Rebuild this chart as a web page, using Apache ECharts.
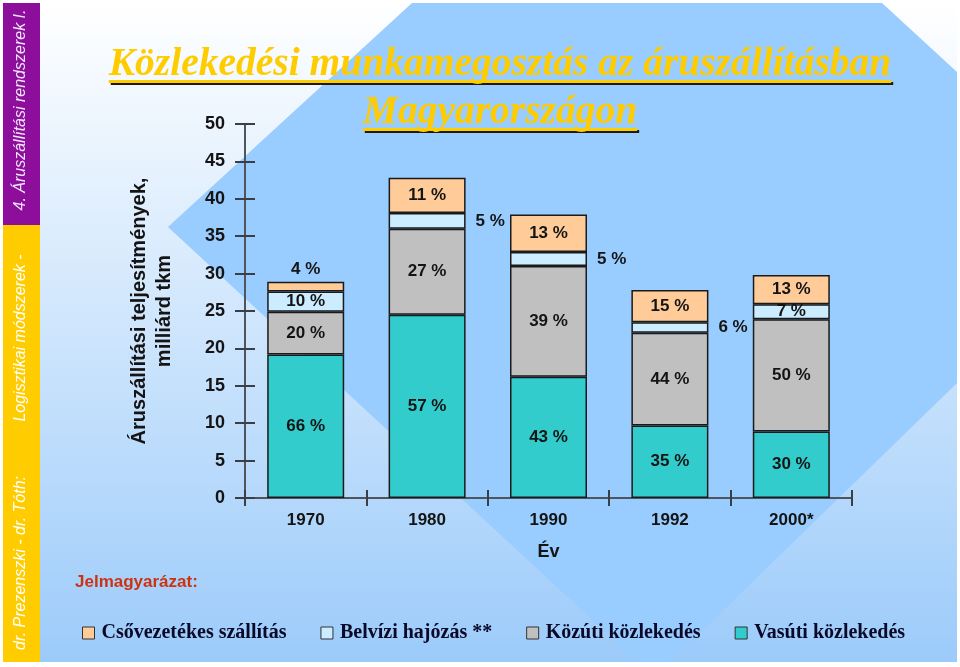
<!DOCTYPE html>
<html><head><meta charset="utf-8">
<script src="https://cdn.jsdelivr.net/npm/echarts@6/dist/echarts.min.js"></script>
<style>html,body{margin:0;padding:0;background:#fff}#c{width:960px;height:667px}</style>
</head><body><div id="c"></div>
<script>
// ---- data ----
const categories = ['1970', '1980', '1990', '1992', '2000*'];
const rail  = [19.2, 24.5, 16.2, 9.7, 8.9];   // Vasúti
const road  = [5.7, 11.5, 14.8, 12.4, 15.0];  // Közúti
const water = [2.7, 2.1, 1.9, 1.4, 2.0];      // Belvízi
const pipe  = [1.3, 4.7, 5.0, 4.3, 3.9];      // Csővezetékes
const railPct  = ['66 %', '57 %', '43 %', '35 %', '30 %'];
const roadPct  = ['20 %', '27 %', '39 %', '44 %', '50 %'];
const waterPct = ['10 %', '5 %', '5 %', '6 %', '7 %'];
const pipePct  = ['4 %', '11 %', '13 %', '15 %', '13 %'];
const seriesNames = ['Csővezetékes szállítás', 'Belvízi hajózás **', 'Közúti közlekedés', 'Vasúti közlekedés'];
const yMin = 0, yMax = 50, yStep = 5;

// label placement (config)
const railPos  = ['inside', 'inside', 'inside', 'inside', 'inside'];
const roadPos  = ['inside', 'inside', 'inside', 'inside', 'inside'];
const waterPos = ['inside', 'right', 'right', 'right', 'inside'];
const pipePos  = ['top', 'inside', 'inside', 'inside', 'inside'];

const chart = echarts.init(document.getElementById('c'), null, {renderer: 'canvas'});

const sans = '"Liberation Sans", Arial, sans-serif';
const serif = '"Liberation Serif", "Times New Roman", serif';
const titleFont = 'italic bold 39.5px ' + serif;

function measure(txt, font) {
  const cv = document.createElement('canvas').getContext('2d');
  cv.font = font;
  return cv.measureText(txt).width;
}
const t1 = 'Közlekedési munkamegosztás az áruszállításban';
const t2 = 'Magyarországon';
const w1 = measure(t1, titleFont), w2 = measure(t2, titleFont);
const cx = 500;

function mkSeries(name, vals, pcts, pos, color) {
  return {
    name: name, type: 'bar', stack: 'total', barWidth: 77,
    itemStyle: {color: color, borderColor: '#1a1a1a', borderWidth: 1.5},
    label: {
      show: true, color: '#141414', fontFamily: sans, fontWeight: 'bold', fontSize: 17,
      formatter: p => pcts[p.dataIndex]
    },
    data: vals.map((v, i) => ({
      value: v,
      label: {position: pos[i], distance: pos[i] === 'right' ? 10 : 4}
    }))
  };
}

const sideText = (txt, x, y, fill, shadow) => ({
  type: 'text', x: x, y: y, rotation: Math.PI / 2, z: -50,
  style: {text: txt, font: 'italic 16px ' + sans, fill: fill, align: 'center', verticalAlign: 'middle',
          textShadowColor: shadow, textShadowOffsetX: 1, textShadowOffsetY: 1, textShadowBlur: 0}
});

const option = {
  backgroundColor: '#ffffff',
  animation: false,
  graphic: [
    {type: 'rect', z: -100, shape: {x: 3, y: 3, width: 954, height: 659},
     style: {fill: {type: 'linear', x: 0, y: 0, x2: 0, y2: 1,
       colorStops: [{offset: 0, color: '#ffffff'}, {offset: 1, color: '#9ccbfa'}]}}},
    {type: 'polygon', z: -90, shape: {points: [[412, 3], [882, 3], [957, 72], [957, 383], [670, 662], [638, 662], [168, 227]]},
     style: {fill: '#99ccff'}},
    {type: 'rect', z: -80, shape: {x: 3, y: 3, width: 37, height: 222}, style: {fill: '#8e0e9c'}},
    {type: 'rect', z: -80, shape: {x: 3, y: 225, width: 37, height: 437}, style: {fill: '#ffcc00'}},
    sideText('4. Áruszállítási rendszerek I.', 21, 110, '#f4e6ff', 'rgba(60,0,60,0.5)'),
    sideText('Logisztikai módszerek -', 21, 338, '#ffffff', 'rgba(120,90,0,0.45)'),
    sideText('dr. Prezenszki - dr. Tóth:', 21, 563, '#ffffff', 'rgba(120,90,0,0.45)'),
    // title underlines
    {type: 'rect', z: 10, shape: {x: cx - w1 / 2, y: 80, width: w1, height: 3},
     style: {fill: '#ffcc00', shadowColor: '#1a1a1a', shadowOffsetX: 2, shadowOffsetY: 2, shadowBlur: 0}},
    {type: 'rect', z: 10, shape: {x: cx - w2 / 2, y: 128, width: w2, height: 3},
     style: {fill: '#ffcc00', shadowColor: '#1a1a1a', shadowOffsetX: 2, shadowOffsetY: 2, shadowBlur: 0}},
    {type: 'text', z: 11, x: cx, y: 65,
     style: {text: t1, font: titleFont, fill: '#ffcc00', align: 'center', verticalAlign: 'middle',
             textShadowColor: '#1a1a1a', textShadowOffsetX: 2, textShadowOffsetY: 2, textShadowBlur: 0}},
    {type: 'text', z: 11, x: cx, y: 113,
     style: {text: t2, font: titleFont, fill: '#ffcc00', align: 'center', verticalAlign: 'middle',
             textShadowColor: '#1a1a1a', textShadowOffsetX: 2, textShadowOffsetY: 2, textShadowBlur: 0}},
    {type: 'text', z: 11, x: 75, y: 582,
     style: {text: 'Jelmagyarázat:', font: 'bold 17px ' + sans, fill: '#cc3311', align: 'left', verticalAlign: 'middle'}}
  ],
  legend: {
    data: seriesNames, left: 82, top: 623, padding: 0, itemWidth: 12, itemHeight: 12, itemGap: 34, icon: 'rect',
    itemStyle: {borderColor: '#333', borderWidth: 1},
    textStyle: {fontFamily: serif, fontWeight: 'bold', fontSize: 20, color: '#0a0a28', padding: [0, 0, 0, 2]}
  },
  grid: {left: 245, right: 108, top: 124, bottom: 169, containLabel: false},
  xAxis: [
    {type: 'category', data: categories,
     axisLine: {lineStyle: {color: '#50545c', width: 2}},
     axisTick: {show: true, length: 8, lineStyle: {color: '#3a3e46', width: 2}},
     axisLabel: {color: '#141414', fontFamily: sans, fontWeight: 'bold', fontSize: 17, margin: 14},
     name: 'Év', nameLocation: 'middle', nameGap: 45,
     nameTextStyle: {color: '#141414', fontFamily: sans, fontWeight: 'bold', fontSize: 18}},
    {type: 'category', data: categories, position: 'bottom',
     axisLine: {show: false}, axisLabel: {show: false},
     axisTick: {show: true, inside: true, length: 8, lineStyle: {color: '#3a3e46', width: 2}}}
  ],
  yAxis: [
    {type: 'value', min: yMin, max: yMax, interval: yStep, position: 'left',
     axisLine: {show: true, lineStyle: {color: '#50545c', width: 2}},
     axisTick: {show: true, length: 10, lineStyle: {color: '#3a3e46', width: 2}},
     splitLine: {show: false},
     axisLabel: {color: '#141414', fontFamily: sans, fontWeight: 'bold', fontSize: 18, margin: 20},
     name: 'Áruszállítási teljesítmények,\nmilliárd tkm', nameLocation: 'middle', nameGap: 68,
     nameTextStyle: {color: '#141414', fontFamily: sans, fontWeight: 'bold', fontSize: 20, lineHeight: 25, align: 'center'}},
    {type: 'value', min: yMin, max: yMax, interval: yStep, position: 'left',
     axisLine: {show: false}, splitLine: {show: false}, axisLabel: {show: false},
     axisTick: {show: true, inside: true, length: 10, lineStyle: {color: '#3a3e46', width: 2}}}
  ],
  series: [
    mkSeries(seriesNames[3], rail, railPct, railPos, '#33cccc'),
    mkSeries(seriesNames[2], road, roadPct, roadPos, '#c0c0c0'),
    mkSeries(seriesNames[1], water, waterPct, waterPos, '#ccecff'),
    mkSeries(seriesNames[0], pipe, pipePct, pipePos, '#ffcc99')
  ]
};
chart.setOption(option);
</script>
</body></html>
